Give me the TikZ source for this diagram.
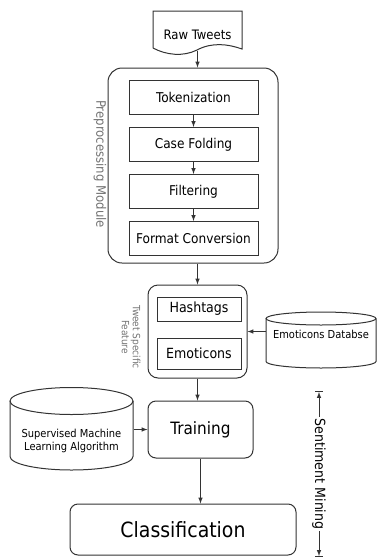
\documentclass[tikz,border=0pt]{standalone}
\usepackage{fontspec}
\setmainfont{DejaVu Sans Condensed}
\usetikzlibrary{positioning}
\begin{document}
\begin{tikzpicture}[x=1pt,y=-1pt,>=latex,
    line width=1pt,draw=black!80,
    stepbox/.style={draw,minimum width=129pt,minimum height=34pt,inner sep=0pt,
      font=\fontsize{13.5}{16}\selectfont},
    featbox/.style={draw,minimum width=84pt,inner sep=0pt,
      font=\fontsize{14}{16}\selectfont},
    grpbox/.style={draw,rounded corners=14pt,inner sep=0pt},
    mainbox/.style={draw,rounded corners=8pt,inner sep=0pt},
    sidelbl/.style={rotate=-90,text=black!55,align=center},
    dbtxt/.style={align=center,inner sep=0pt,font=\fontsize{11}{13}\selectfont}
  ]
  \useasboundingbox (0,0) rectangle (378,558);

  % raw input, document symbol
  \node (rawtw) [minimum height=30pt,font=\fontsize{13}{15}\selectfont] at (197.5,35) {Raw Tweets};
  \draw (153,48) -- (153,11) -- (242,11) -- (242,49)
    .. controls (228,44) and (212,42) .. (197,50)
    .. controls (183,57) and (166,55) .. (153,48);

  % preprocessing module
  \node (prep) [grpbox,minimum width=170pt,minimum height=195pt] at (193,165.5) {};
  \node (tok) [stepbox] at (193.5,97.5) {Tokenization};
  \node (cf) [stepbox,below=12pt of tok] {Case Folding};
  \node (filt) [stepbox,below=12pt of cf] {Filtering};
  \node (fmt) [stepbox,below=12pt of filt] {Format Conversion};
  \node [sidelbl,font=\fontsize{13}{14}\selectfont] at (100,164) {Preprocessing Module};

  \draw[->] (rawtw.south) -- (rawtw.south |- prep.north);
  \draw[->] (tok) -- (cf);
  \draw[->] (cf) -- (filt);
  \draw[->] (filt) -- (fmt);

  % tweet specific features
  \node (tsf) [grpbox,rounded corners=10pt,minimum width=99pt,minimum height=93pt] at (197.5,331.5) {};
  \node (hash) [featbox,minimum height=24pt] at (199,309) {Hashtags};
  \node (emot) [featbox,minimum height=31pt] at (199,353.5) {Emoticons};
  \node [sidelbl,font=\fontsize{10}{11}\selectfont] at (131,337) {Tweet Specific\\Feature};

  \node (emodb) [dbtxt,minimum width=110pt] at (321,334) {Emoticons Databse};
  \draw (266,318.5) -- (266,361.5)
    arc[start angle=180,end angle=360,x radius=55pt,y radius=6.5pt] -- (376,318.5);
  \draw (321,318.5) ellipse [x radius=55pt,y radius=6.5pt];

  \draw[->] (prep.south -| tsf.north) -- (tsf.north);
  \draw[->] (tsf.east -| emodb.west) -- (tsf.east);

  % sentiment mining
  \node (train) [mainbox,minimum width=105pt,minimum height=57pt,
    font=\fontsize{17}{19}\selectfont] at (200.5,429.5) {Training};
  \node (clas) [mainbox,minimum width=226pt,minimum height=51pt,
    font=\fontsize{21}{23}\selectfont] at (183,529.5) {Classification};

  \node (sml) [dbtxt,minimum width=123pt] at (71.5,441) {Supervised Machine\\Learning Algorithm};
  \draw (10,401) -- (10,456.5)
    arc[start angle=180,end angle=360,x radius=61.5pt,y radius=13.5pt] -- (133,401);
  \draw (71.5,401) ellipse [x radius=61.5pt,y radius=13.5pt];

  \draw[->] (tsf.south) -- (tsf.south |- train.north);
  \draw[->] (train.west -| sml.east) -- (train.west);
  \draw[->] (train.south) -- (train.south |- clas.north);

  \coordinate (smtop) at (319,391);
  \coordinate (smbot) at (319,557);
  \draw[|<->|] (smtop) -- node[fill=white,rotate=-90,inner sep=2pt,
    font=\fontsize{14}{16}\selectfont] {Sentiment Mining} (smbot);
\end{tikzpicture}
\end{document}
